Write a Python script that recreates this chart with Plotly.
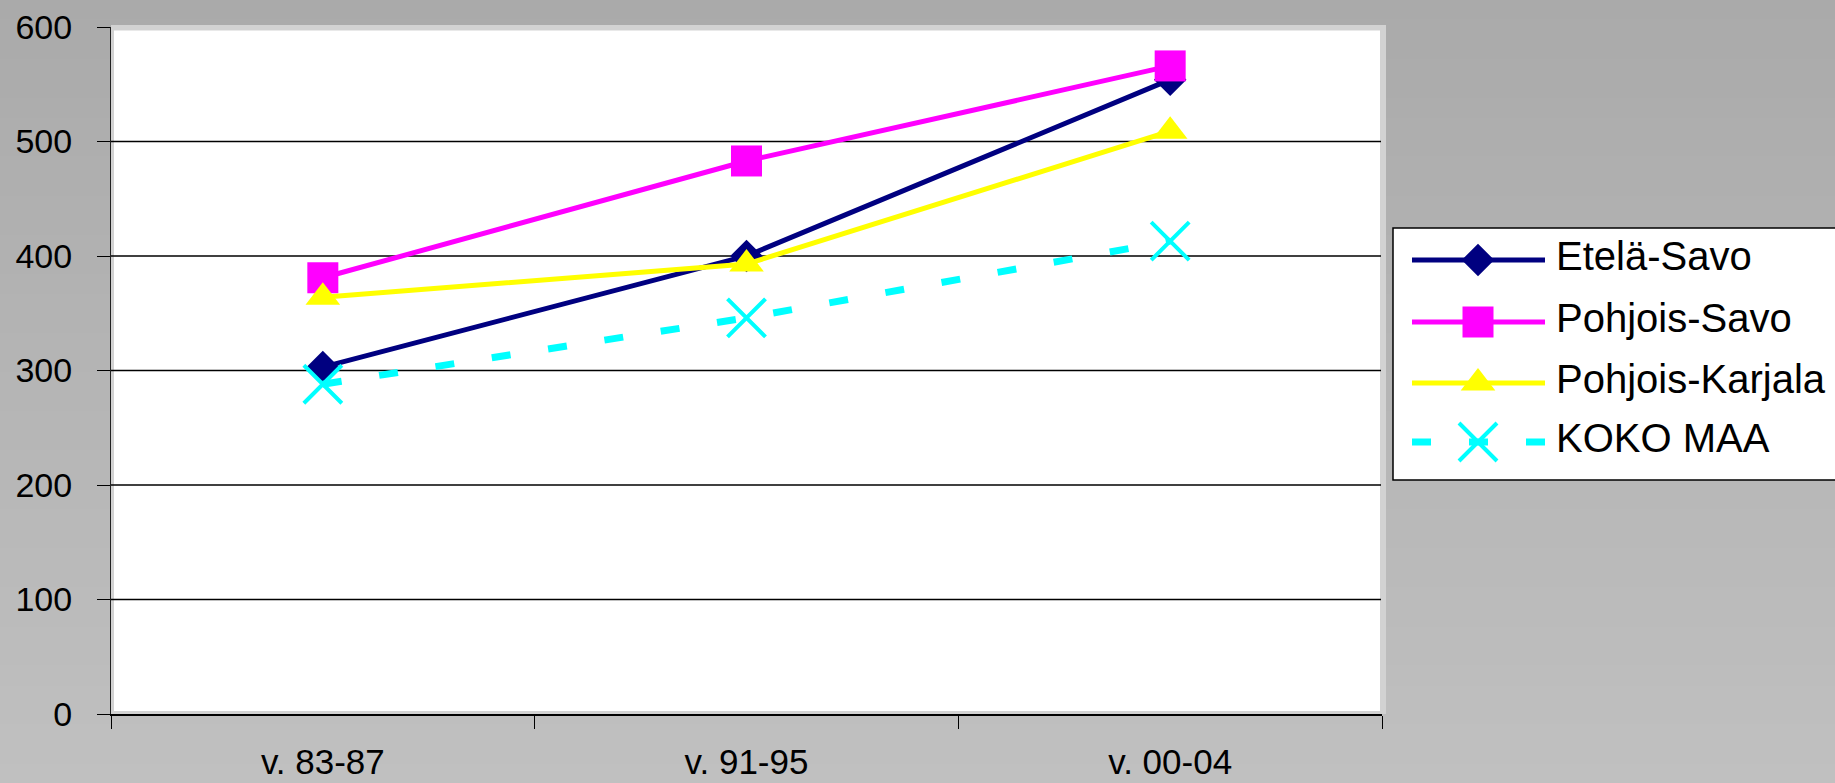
import plotly.graph_objects as go

# ---- data ----
categories = ["v. 83-87", "v. 91-95", "v. 00-04"]
series_names = ["Etelä-Savo", "Pohjois-Savo", "Pohjois-Karjala", "KOKO MAA"]
etela_savo = [303, 400, 554]
pohjois_savo = [381, 483, 566]
pohjois_karjala = [364, 393, 509]
koko_maa = [288, 346, 413]
y_ticks = [0, 100, 200, 300, 400, 500, 600]
grid_values = [100, 200, 300, 400, 500]

W, H = 1835, 783
FONT = "Liberation Sans, Arial, sans-serif"

# pixel layout of the plot area
PL, PR, PT, PB = 111, 1382, 27, 714

def px(x):
    return x / W

def py(y):
    return 1 - y / H

styles = [
    dict(color="#000080", width=5, dash="solid", symbol="diamond", size=25),
    dict(color="#FF00FF", width=5, dash="solid", symbol="square", size=31),
    dict(color="#FFFF00", width=5, dash="solid", symbol="triangle-up", size=30),
    dict(color="#00FFFF", width=7, dash="19px,38px", symbol="x-thin", size=38),
]
values = [etela_savo, pohjois_savo, pohjois_karjala, koko_maa]

fig = go.Figure()

for name, vals, st in zip(series_names, values, styles):
    marker = dict(symbol=st["symbol"], size=st["size"], color=st["color"])
    if st["symbol"] == "x-thin":
        marker["line"] = dict(color=st["color"], width=4)
    else:
        marker["line"] = dict(width=0)
    fig.add_trace(go.Scatter(
        x=categories, y=vals, name=name, mode="lines+markers",
        line=dict(color=st["color"], width=st["width"], dash=st["dash"]),
        marker=marker, showlegend=False, cliponaxis=False,
        xaxis="x", yaxis="y",
    ))

# ---- custom legend (drawn on a helper axis in pixel units) ----
LG_L, LG_T, LG_B = 1393, 228, 480
legend_rows = [260, 322, 383, 442]
LINE_X0, LINE_X1, MARK_X, TEXT_X = 1412, 1545, 1478, 1554
for name, row, st in zip(series_names, legend_rows, styles):
    fig.add_trace(go.Scatter(
        x=[LINE_X0, LINE_X1], y=[row, row], mode="lines",
        line=dict(color=st["color"], width=st["width"], dash=st["dash"]),
        showlegend=False, hoverinfo="skip", xaxis="x2", yaxis="y2",
    ))
    marker = dict(symbol=st["symbol"], size=st["size"], color=st["color"])
    if st["symbol"] == "x-thin":
        marker["line"] = dict(color=st["color"], width=4)
    else:
        marker["line"] = dict(width=0)
    fig.add_trace(go.Scatter(
        x=[MARK_X], y=[row], mode="markers", marker=marker,
        showlegend=False, hoverinfo="skip", xaxis="x2", yaxis="y2",
    ))
    fig.add_annotation(
        x=px(TEXT_X), y=py(row - 4), xref="paper", yref="paper",
        text=name, showarrow=False, xanchor="left", yanchor="middle",
        font=dict(family=FONT, size=40, color="black"),
    )

shapes = []
# gradient background bands
N = 40
top_c, bot_c = 0xAA, 0xC0
for i in range(N):
    c = round(top_c + (bot_c - top_c) * (i + 0.5) / N)
    shapes.append(dict(type="rect", xref="paper", yref="paper",
                       x0=0, x1=1, y0=1 - (i + 1) / N - 0.001, y1=1 - i / N,
                       fillcolor=f"rgb({c},{c},{c})", line=dict(width=0), layer="below"))
# plot-area frame and white fill
shapes.append(dict(type="rect", xref="paper", yref="paper",
                   x0=px(PL), x1=px(1386), y0=py(PB), y1=py(25),
                   fillcolor="#d2d2d2", line=dict(width=0), layer="below"))
shapes.append(dict(type="rect", xref="paper", yref="paper",
                   x0=px(114), x1=px(1380), y0=py(711), y1=py(30.5),
                   fillcolor="white", line=dict(width=0), layer="below"))
# gridlines
for g in grid_values:
    shapes.append(dict(type="line", xref="paper", yref="y",
                       x0=px(PL), x1=px(1381), y0=g, y1=g,
                       line=dict(color="black", width=1.3), layer="below"))
# legend box
shapes.append(dict(type="rect", xref="paper", yref="paper",
                   x0=px(LG_L), x1=1.01, y0=py(LG_B), y1=py(LG_T),
                   fillcolor="white", line=dict(color="black", width=1.5), layer="below"))

fig.update_layout(
    width=W, height=H,
    margin=dict(l=0, r=0, t=0, b=0, autoexpand=False),
    paper_bgcolor="#b5b5b5",
    plot_bgcolor="rgba(0,0,0,0)",
    font=dict(family=FONT, color="black"),
    shapes=shapes,
    showlegend=False,
    xaxis=dict(
        domain=[px(PL), px(PR)], type="category", categoryorder="array",
        categoryarray=categories, range=[-0.5, 2.5], automargin=False,
        tickson="boundaries", ticks="outside", ticklen=13, tickcolor="black",
        tickwidth=1, showline=True, linecolor="black", linewidth=1.5,
        showgrid=False, zeroline=False, fixedrange=True,
        tickfont=dict(family=FONT, size=35, color="black"),
        ticklabelstandoff=16,
    ),
    yaxis=dict(
        domain=[py(PB), py(PT)], range=[0, 600], tickvals=y_ticks, automargin=False,
        ticks="outside", ticklen=13, tickcolor="black", tickwidth=1,
        showline=True, linecolor="#222222", linewidth=1,
        showgrid=False, zeroline=False, fixedrange=True,
        tickfont=dict(family=FONT, size=34, color="black"),
        ticklabelstandoff=18,
    ),
    xaxis2=dict(domain=[px(LG_L), 1], range=[LG_L, W], visible=False,
                fixedrange=True, anchor="y2", automargin=False),
    yaxis2=dict(domain=[py(LG_B), py(LG_T)], range=[LG_B, LG_T], visible=False,
                fixedrange=True, anchor="x2", automargin=False),
)

fig.write_html(
    "out.html",
    config={"displayModeBar": False},
    post_script="document.body.style.margin='0';document.body.style.overflow='hidden';",
)
